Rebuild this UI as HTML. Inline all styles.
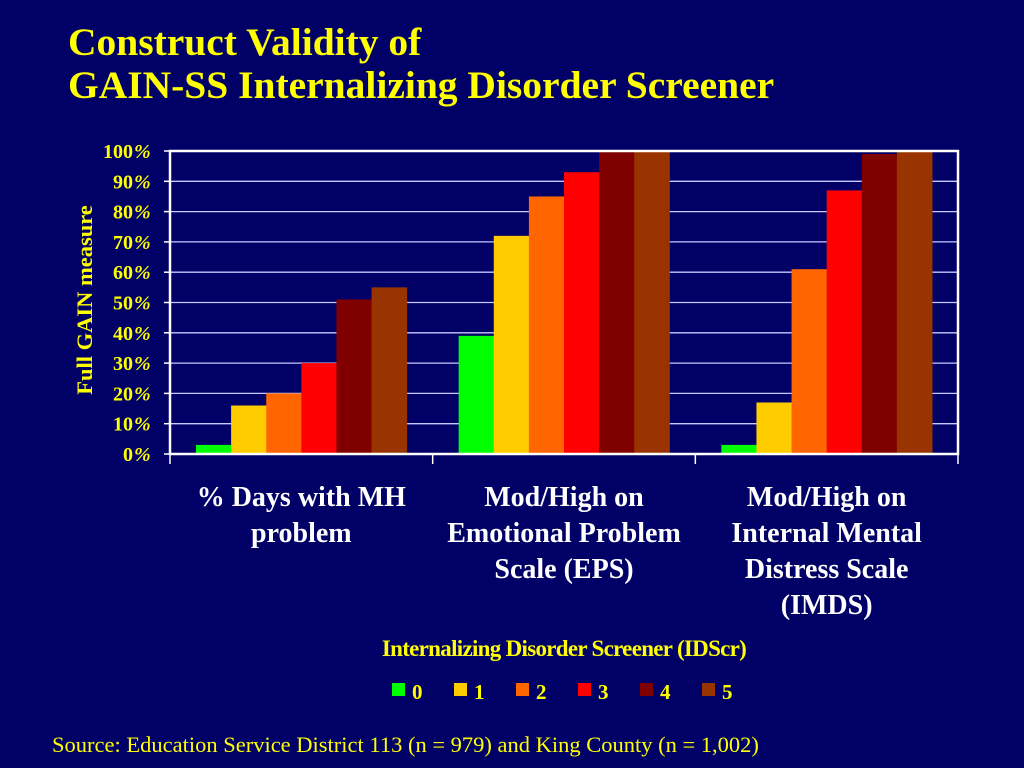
<!DOCTYPE html>
<html><head><meta charset="utf-8"><style>
html,body{margin:0;padding:0;background:#000066;width:1024px;height:768px;overflow:hidden}
svg{display:block}
</style></head><body>
<svg id="chart" width="1024" height="768" xmlns="http://www.w3.org/2000/svg" font-family="Liberation Serif, serif">
<rect width="1024" height="768" fill="#000066"/>
<text x="68" y="55" fill="#ffff00" font-size="39.5" font-weight="bold">Construct Validity of</text>
<text x="68" y="98" fill="#ffff00" font-size="39.5" font-weight="bold">GAIN-SS Internalizing Disorder Screener</text>
<g id="grid"></g>
<g id="bars"></g>
<g id="axes"></g>
<text transform="translate(92,300) rotate(-90)" text-anchor="middle" fill="#ffff00" font-size="22.5" font-weight="bold">Full GAIN measure</text>
<text x="564" y="656" text-anchor="middle" fill="#ffff00" font-size="23" font-weight="bold" letter-spacing="-0.7">Internalizing Disorder Screener (IDScr)</text>
<g id="legend"></g>
<text x="52" y="752" fill="#ffff00" font-size="22.5">Source: Education Service District 113 (n = 979) and King County (n = 1,002)</text>
</svg>
<script>
const categories = [["% Days with MH","problem"],["Mod/High on","Emotional Problem","Scale (EPS)"],["Mod/High on","Internal Mental","Distress Scale","(IMDS)"]];
const seriesNames = ["0","1","2","3","4","5"];
const s0 = [3, 39, 3];
const s1 = [16, 72, 17];
const s2 = [20, 85, 61];
const s3 = [30, 93, 87];
const s4 = [51, 100, 99];
const s5 = [55, 100, 100];
const yTicks = [0,10,20,30,40,50,60,70,80,90,100];
const series = [s0,s1,s2,s3,s4,s5];
const colors = ["#00ff00","#ffcc00","#ff6600","#ff0000","#800000","#993300"];
const NS="http://www.w3.org/2000/svg";
const L=170,R=958,T=151,B=454;
const y=v=>B-(v/100)*(B-T);
const gw=(R-L)/categories.length;
const pad=26, bw=(gw-2*pad)/series.length;
const x=(g,s)=>L+g*gw+pad+s*bw;
function mk(tag,attrs,parent){const e=document.createElementNS(NS,tag);for(const k in attrs)e.setAttribute(k,attrs[k]);parent.appendChild(e);return e;}
const grid=document.getElementById('grid'),bars=document.getElementById('bars'),axes=document.getElementById('axes'),legend=document.getElementById('legend');
yTicks.forEach(t=>{
  if(t>0&&t<100){const l=mk('line',{x1:L,x2:R,y1:y(t),y2:y(t),stroke:'#c8c8ff','stroke-width':1.3},grid);
  
  }
  const tk=mk('line',{x1:L-6,x2:L,y1:y(t),y2:y(t),stroke:'#fff','stroke-width':1.5},axes);
  
  
  const tx=mk('text',{x:L-37,y:y(t)+7,'text-anchor':'end',fill:'#ffff00','font-size':20,'font-weight':'bold'},axes);
  tx.textContent=t;
  
  
  const pc=mk('text',{x:L-36,y:y(t)+7,fill:'#ffff00','font-size':20,'font-weight':'bold','font-style':'italic'},axes);
  pc.textContent='%';
  
  
});
series.forEach((vals,s)=>vals.forEach((v,g)=>{
  const r=mk('rect',{x:x(g,s),y:y(v),width:bw+0.5,height:B-y(v),fill:colors[s]},bars);
  
  
}));
const frame=mk('path',{d:`M${L},${B} L${L},${T} L${R},${T} L${R},${B} Z`,fill:'none',stroke:'#fff','stroke-width':2.5},axes);


for(let i=0;i<=categories.length;i++){
  const t=mk('line',{x1:L+i*gw,x2:L+i*gw,y1:B,y2:B+10,stroke:'#fff','stroke-width':1.5},axes);
  
  
}
categories.forEach((lines,g)=>{
  lines.forEach((ln,i)=>{
    const t=mk('text',{x:L+g*gw+gw/2,y:506+i*36,'text-anchor':'middle',fill:'#fff','font-size':28,'font-weight':'bold'},axes);
    t.textContent=ln;
    
    
  });
});
seriesNames.forEach((n,i)=>{
  const lx=392+i*62;
  const r=mk('rect',{x:lx,y:683,width:13,height:13,fill:colors[i]},legend);
  
  
  const t=mk('text',{x:lx+20,y:699,fill:'#ffff00','font-size':21,'font-weight':'bold'},legend);
  t.textContent=n;
  
  
});
</script>
</body></html>
